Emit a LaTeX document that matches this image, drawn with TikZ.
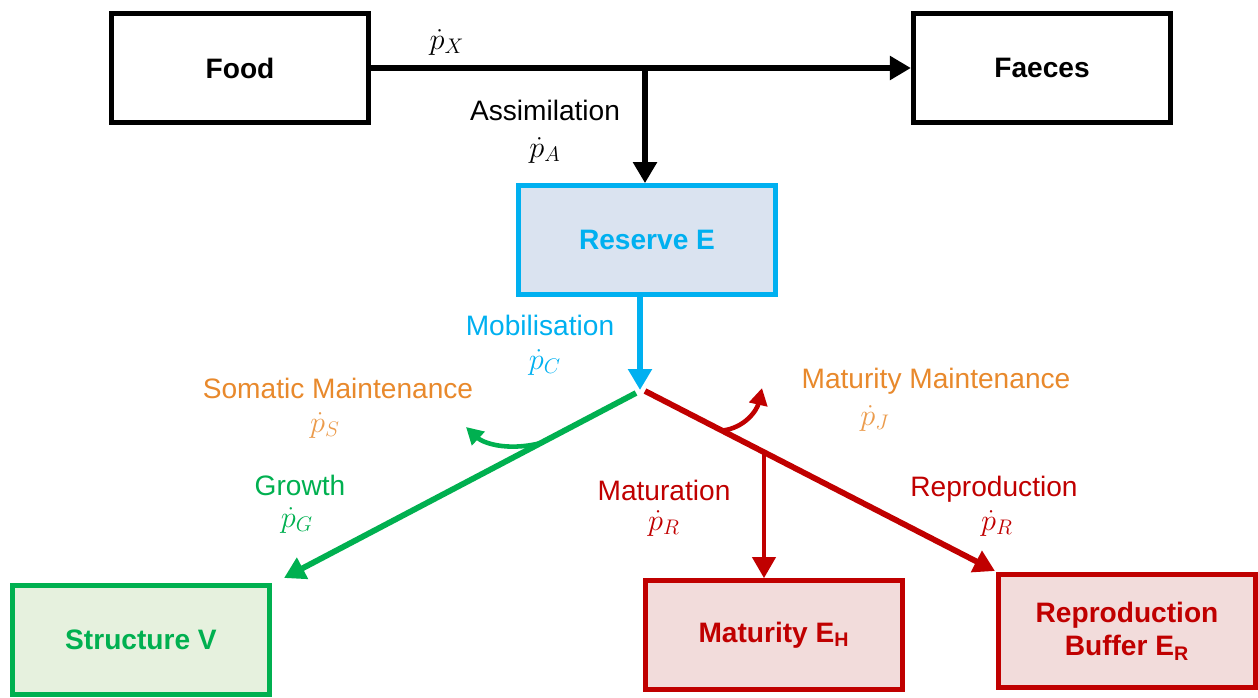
\documentclass[tikz,border=0pt]{standalone}
\usepackage{fontspec}
\setmainfont{Liberation Sans}
\usepackage{xcolor}
\usetikzlibrary{arrows.meta,calc}

\definecolor{resblue}{HTML}{00B0F0}
\definecolor{resfill}{HTML}{DAE3F0}
\definecolor{strgreen}{HTML}{00B050}
\definecolor{strfill}{HTML}{E6F1DE}
\definecolor{matred}{HTML}{C00000}
\definecolor{matfill}{HTML}{F2DCDB}
\definecolor{mntorange}{HTML}{E8892C}

\begin{document}
\begin{tikzpicture}[x=0.02cm, y=-0.02cm,
  box/.style={draw, rectangle, line width=2.7pt, minimum width=5.15cm, minimum height=2.18cm,
    font=\fontsize{16}{19}\selectfont\bfseries, align=center},
  lbl/.style={font=\fontsize{16}{19}\selectfont, align=center},
  rate/.style={font=\fontsize{18}{20}\selectfont},
  flow/.style={line width=3pt, -{Triangle[length=0.42cm,width=0.46cm]}},
  side/.style={line width=2.6pt, -{Triangle[length=0.34cm,width=0.36cm]}}]
\useasboundingbox (0,0) rectangle (1258,697);

% compartments
\node[box, fill=white] (food) at (240,68) {Food};
\node[box, fill=white] (faeces) at (1042,68) {Faeces};
\node[box, draw=resblue, fill=resfill, text=resblue] (reserve) at (647,240) {Reserve E};
\node[box, draw=strgreen, fill=strfill, text=strgreen] (structure) at (141,640) {Structure V};
\node[box, draw=matred, fill=matfill, text=matred] (maturity) at (774,635) {Maturity E\textsubscript{H}};
\node[box, draw=matred, fill=matfill, text=matred, minimum height=2.26cm] (buffer) at (1127,631) {Reproduction\\Buffer E\textsubscript{R}};

% junctions
\coordinate (split) at (645,68);
\coordinate (hub) at (640,390);
\coordinate (gs) at (636,393);
\coordinate (ge) at (284,578);
\coordinate (rs) at (645,391);
\coordinate (re) at (995,571);
\coordinate (somb) at ($(gs)!0.27!(ge)$);
\coordinate (somtip) at (466,427);
\coordinate (matb) at ($(rs)!0.22!(re)$);
\coordinate (mattip) at (762,388);
\coordinate (mtb) at ($(rs)!0.34!(re)$);

% fluxes
\draw[flow] (food) -- (faeces);
\draw[flow] (split) -- (split |- reserve.north);
\draw[flow, resblue] (reserve.south -| hub) -- (hub);
\draw[flow, strgreen, line width=3.3pt] (gs) -- (ge);
\draw[flow, matred, line width=3.3pt] (rs) -- (re);
\draw[side, strgreen] (somb) .. controls (505,452) and (482,442) .. (somtip);
\draw[side, matred] (matb) .. controls (745,428) and (757,410) .. (mattip);
\draw[flow, matred, line width=2.3pt] (mtb) -- (mtb |- maturity.north);

% labels
\node[rate] (px) at (447,42) {$\dot{p}_X$};
\node[lbl] (assim) at (545,110) {Assimilation};
\node[rate] (pa) at (545,150) {$\dot{p}_A$};
\node[lbl, text=resblue] (mobil) at (540,325) {Mobilisation};
\node[rate, text=resblue] (pc) at (545,362) {$\dot{p}_C$};
\node[lbl, text=mntorange] (somat) at (338,388) {Somatic Maintenance};
\node[rate, text=mntorange!85] (ps) at (325,425) {$\dot{p}_S$};
\node[lbl, text=strgreen] (growth) at (300,485) {Growth};
\node[rate, text=strgreen] (pg) at (297,520) {$\dot{p}_G$};
\node[lbl, text=mntorange] (matmnt) at (936,381) {Maturity Maintenance};
\node[rate, text=mntorange!85] (pj) at (875,418) {$\dot{p}_J$};
\node[lbl, text=matred] (matur) at (664,490) {Maturation};
\node[rate, text=matred] (pr1) at (664,523) {$\dot{p}_R$};
\node[lbl, text=matred] (repro) at (994,489) {Reproduction};
\node[rate, text=matred] (pr2) at (997,523) {$\dot{p}_R$};
\end{tikzpicture}
\end{document}
